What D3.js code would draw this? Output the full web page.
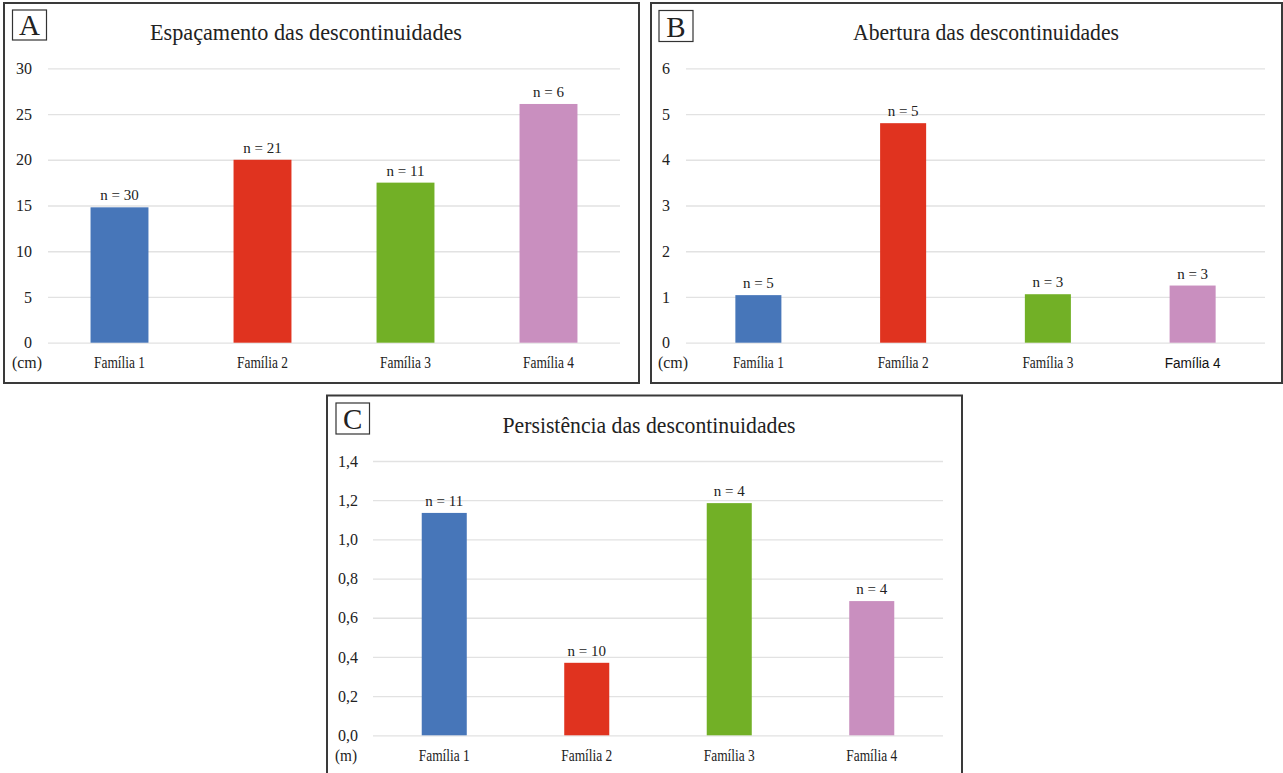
<!DOCTYPE html>
<html>
<head>
<meta charset="utf-8">
<script src="https://cdn.jsdelivr.net/npm/d3@7"></script>
<style>
  html, body { margin: 0; padding: 0; background: #fff; }
  svg { display: block; }
  text { font-family: "Liberation Serif", "Times New Roman", serif; fill: #222; }
</style>
</head>
<body>
<svg id="chart" width="1283" height="773"></svg>
<script>
// ---- data ----
const categories = ["Família 1", "Família 2", "Família 3", "Família 4"];
const colors = ["#4776b9", "#e0331f", "#72b026", "#c98fbf"];

const espacamentoValues = [14.8, 20.0, 17.5, 26.1];
const espacamentoN = [30, 21, 11, 6];
const espacamentoTicks = [0, 5, 10, 15, 20, 25, 30];

const aberturaValues = [1.04, 4.8, 1.06, 1.25];
const aberturaN = [5, 5, 3, 3];
const aberturaTicks = [0, 1, 2, 3, 4, 5, 6];

const persistenciaValues = [1.135, 0.37, 1.185, 0.685];
const persistenciaN = [11, 10, 4, 4];
const persistenciaTicks = [0, 0.2, 0.4, 0.6, 0.8, 1.0, 1.2, 1.4];

const titles = ["Espaçamento das descontinuidades", "Abertura das descontinuidades", "Persistência das descontinuidades"];
const letters = ["A", "B", "C"];
const units = ["(cm)", "(cm)", "(m)"];

// ---- drawing ----
const svg = d3.select("#chart");

function drawPanel(p) {
  const g = svg.append("g");
  // outer frame
  g.append("rect").attr("x", p.box[0]).attr("y", p.box[1]).attr("width", p.box[2]).attr("height", p.box[3])
    .attr("fill", "#fff").attr("stroke", "#3a3a3a").attr("stroke-width", 2);
  // letter box
  g.append("rect").attr("x", p.lbox[0]).attr("y", p.lbox[1]).attr("width", p.lbox[2]).attr("height", p.lbox[3])
    .attr("fill", "#fff").attr("stroke", "#333").attr("stroke-width", 1.2);
  g.append("text").attr("x", p.lbox[0] + p.lbox[2] / 2).attr("y", p.lbox[1] + p.lbox[3] - 5)
    .attr("text-anchor", "middle").attr("font-size", 29).text(p.letter);
  // title
  g.append("text").attr("x", p.titleX).attr("y", p.titleY).attr("text-anchor", "middle")
    .attr("font-size", 23).attr("textLength", p.titleW).attr("lengthAdjust", "spacingAndGlyphs")
    .text(p.title);

  const x = d3.scaleBand().domain(categories).range([p.x0, p.x1])
    .paddingInner(p.pad).paddingOuter(p.pad / 2);
  const y = d3.scaleLinear().domain([0, d3.max(p.ticks)]).range([p.y0, p.y1]);

  // y axis: gridlines + labels
  const yAxis = d3.axisLeft(y).tickValues(p.ticks).tickSize(-(p.x1 - p.x0)).tickPadding(p.tickPad).tickFormat(p.fmt);
  const ya = g.append("g").attr("transform", `translate(${p.x0},0)`).call(yAxis);
  ya.select(".domain").remove();
  ya.selectAll(".tick line").attr("stroke", "#e2e2e2").attr("stroke-width", 1.3);
  ya.selectAll(".tick text").attr("font-size", 16).attr("fill", "#222")
    .attr("font-family", "'Liberation Serif', serif");

  // bars
  g.selectAll("rect.bar").data(p.values).enter().append("rect").attr("class", "bar")
    .attr("x", (d, i) => x(categories[i])).attr("width", x.bandwidth())
    .attr("y", d => y(d)).attr("height", d => y(0) - y(d))
    .attr("fill", (d, i) => colors[i]);

  // n labels
  g.selectAll("text.nlab").data(p.values).enter().append("text").attr("class", "nlab")
    .attr("x", (d, i) => x(categories[i]) + x.bandwidth() / 2).attr("y", d => y(d) - 7)
    .attr("text-anchor", "middle").attr("font-size", 15)
    .text((d, i) => "n = " + p.n[i]);

  // category labels
  categories.forEach((c, i) => {
    const t = g.append("text").attr("x", x(c) + x.bandwidth() / 2).attr("y", p.catY)
      .attr("text-anchor", "middle").text(c);
    if (p.sansLast && i === 3) {
      t.style("font-family", "'Liberation Sans', Arial, sans-serif").attr("font-size", 14).style("fill", "#111")
        .attr("textLength", 56).attr("lengthAdjust", "spacingAndGlyphs");
    } else {
      t.attr("font-size", 16).attr("textLength", 51).attr("lengthAdjust", "spacingAndGlyphs");
    }
  });
  // unit label
  g.append("text").attr("x", p.unitX).attr("y", p.catY).attr("text-anchor", "middle")
    .attr("font-size", 16).attr("textLength", p.unitW).attr("lengthAdjust", "spacingAndGlyphs").text(p.unit);
}

const fmtInt = d3.format("d");
const fmtComma = d => d3.format(".1f")(d).replace(".", ",");

drawPanel({
  box: [4, 3, 635, 380], lbox: [12.5, 10, 34, 30], letter: letters[0],
  title: titles[0], titleX: 306, titleY: 39.5, titleW: 312,
  x0: 48, x1: 620, y0: 342.7, y1: 68.3, pad: 0.595, tickPad: 16,
  ticks: espacamentoTicks, values: espacamentoValues, n: espacamentoN, fmt: fmtInt,
  catY: 368, unit: units[0], unitX: 27, unitW: 30
});

drawPanel({
  box: [651, 3, 631, 380], lbox: [659, 10.5, 34, 31], letter: letters[1],
  title: titles[1], titleX: 986, titleY: 39.5, titleW: 266,
  x0: 686, x1: 1265, y0: 342.7, y1: 68.3, pad: 0.682, tickPad: 16,
  ticks: aberturaTicks, values: aberturaValues, n: aberturaN, fmt: fmtInt,
  catY: 368, unit: units[1], unitX: 673, unitW: 30, sansLast: true
});

drawPanel({
  box: [327, 395.5, 635, 392], lbox: [336, 403, 33.5, 31], letter: letters[2],
  title: titles[2], titleX: 649, titleY: 433, titleW: 293,
  x0: 373, x1: 943, y0: 735.3, y1: 461, pad: 0.684, tickPad: 15,
  ticks: persistenciaTicks, values: persistenciaValues, n: persistenciaN, fmt: fmtComma,
  catY: 761, unit: units[2], unitX: 346, unitW: 22
});
</script>
</body>
</html>
